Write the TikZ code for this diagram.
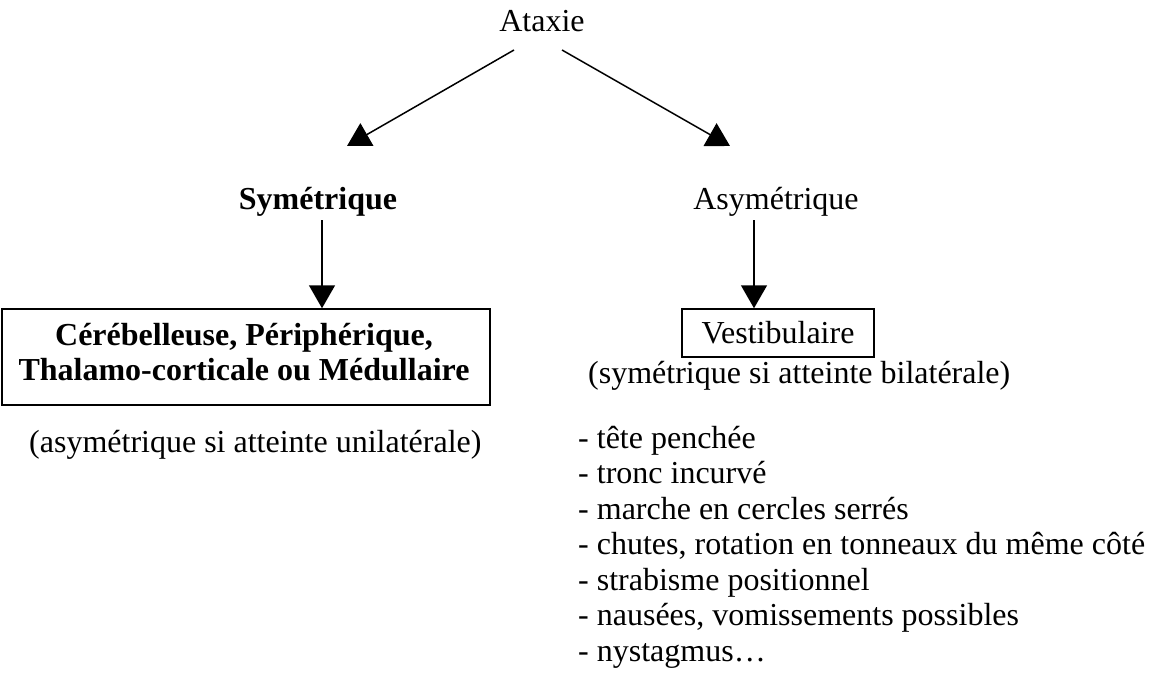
\documentclass[tikz,border=0pt]{standalone}
\usepackage{fontspec}
\setmainfont{Liberation Serif}
\usetikzlibrary{arrows.meta}
\begin{document}
\begin{tikzpicture}[x=1pt,y=-1pt,
  txt/.style={font=\fontsize{32}{36}\selectfont, inner sep=0pt},
  btxt/.style={font=\fontsize{32}{36}\selectfont\bfseries, inner sep=0pt},
  bx/.style={draw, line width=1.5pt, inner sep=0pt},
  arr/.style={line width=1.5pt, -{Triangle[length=23pt,width=26pt]}}]
\useasboundingbox (0,0) rectangle (1156,679);
\node[txt, anchor=base] (ataxie) at (542,32) {Ataxie};
\node[btxt, anchor=base] (sym) at (318,210) {Symétrique};
\node[txt, anchor=base] (asym) at (776,210) {Asymétrique};
\node[bx, minimum width=488pt, minimum height=96pt] (cerbox) at (246,357) {};
\node[btxt, anchor=base] (cer1) at (244,345) {Cérébelleuse, Périphérique,};
\node[btxt, anchor=base] (cer2) at (244,380) {Thalamo-corticale ou Médullaire};
\node[bx, txt, minimum width=192pt, minimum height=48pt] (vest) at (778,333) {Vestibulaire};
\node[txt, anchor=base west] (symnote) at (588,383) {(symétrique si atteinte bilatérale)};
\node[txt, anchor=base west] (asymnote) at (29,452) {(asymétrique si atteinte unilatérale)};
\node[txt, anchor=base west] (li1) at (578,448) {- tête penchée};
\node[txt, anchor=base west] (li2) at (578,483.5) {- tronc incurvé};
\node[txt, anchor=base west] (li3) at (578,519) {- marche en cercles serrés};
\node[txt, anchor=base west] (li4) at (578,554.5) {- chutes, rotation en tonneaux du même côté};
\node[txt, anchor=base west] (li5) at (578,590) {- strabisme positionnel};
\node[txt, anchor=base west] (li6) at (578,625.5) {- nausées, vomissements possibles};
\node[txt, anchor=base west] (li7) at (578,661) {- nystagmus…};
\coordinate (l0) at (514,50);
\coordinate (l1) at (347,146);
\coordinate (r0) at (562,50);
\coordinate (r1) at (730,146);
\coordinate (vl) at (322,220);
\coordinate (vr) at (754,220);
\draw[arr] (l0) -- (l1);
\draw[arr] (r0) -- (r1);
\draw[arr] (vl) -- (vl |- cerbox.north);
\draw[arr] (vr) -- (vr |- vest.north);
\end{tikzpicture}
\end{document}
